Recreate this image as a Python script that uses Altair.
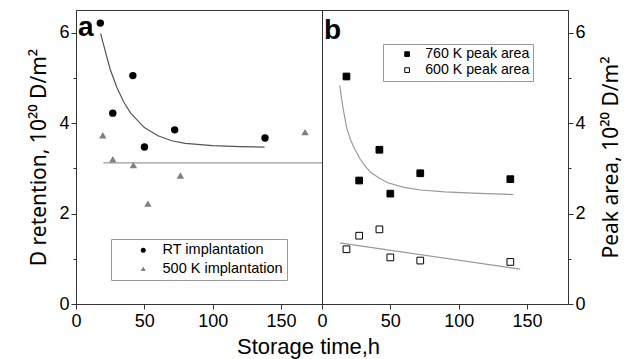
import altair as alt
import pandas as pd

FONT = "Liberation Sans"
TITLE_FONT = "Noto Sans"

# ---- panel a data ----
t_rt = [17.8, 26.9, 41.6, 50.1, 72.2, 138.3]
rt_vals = [6.21, 4.22, 5.05, 3.47, 3.85, 3.67]
t_500 = [19.6, 26.9, 42.0, 52.6, 76.4, 167.6]
k500_vals = [3.73, 3.20, 3.07, 2.22, 2.84, 3.80]
series_a = ["RT implantation", "500 K implantation"]

fit_a_t = [18, 20, 25, 30, 35, 40, 50, 60, 70, 80, 100, 120, 138]
fit_a_y = [5.98, 5.75, 5.19, 4.78, 4.46, 4.22, 3.90, 3.72, 3.61, 3.55, 3.50, 3.48, 3.47]
const_a_t = [20, 180]
const_a_y = [3.12, 3.12]

# ---- panel b data ----
t_b = [17.9, 27.2, 42.0, 50.0, 71.9, 137.8]
p760_vals = [5.03, 2.73, 3.41, 2.44, 2.89, 2.76]
p600_vals = [1.21, 1.51, 1.65, 1.03, 0.96, 0.93]
series_b = ["760 K peak area", "600 K peak area"]

fit_b_t = [13, 15, 18, 21, 24, 28, 32, 36, 42, 48, 60, 72, 90, 110, 140]
fit_b_y = [4.83, 4.40, 3.90, 3.62, 3.42, 3.20, 3.03, 2.90, 2.78, 2.68, 2.58, 2.52, 2.48, 2.45, 2.42]
line_b_t = [13, 145]
line_b_y = [1.35, 0.77]

x_ticks = [0, 25, 50, 75, 100, 125, 150, 175]
y_ticks = [0, 1, 2, 3, 4, 5, 6]
panel_labels = ["a", "b"]

W, H = 246, 294

df_a = pd.DataFrame({
    "t": t_rt + t_500,
    "v": rt_vals + k500_vals,
    "series": [series_a[0]] * len(t_rt) + [series_a[1]] * len(t_500),
})
df_fit_a = pd.DataFrame({"t": fit_a_t, "v": fit_a_y})
df_const_a = pd.DataFrame({"t": const_a_t, "v": const_a_y})

df_b = pd.DataFrame({
    "t": t_b + t_b,
    "v": p760_vals + p600_vals,
    "series": [series_b[0]] * len(t_b) + [series_b[1]] * len(t_b),
})
df_fit_b = pd.DataFrame({"t": fit_b_t, "v": fit_b_y})
df_line_b = pd.DataFrame({"t": line_b_t, "v": line_b_y})

xscale = alt.Scale(domain=[0, 180], nice=False, zero=False)
yscale = alt.Scale(domain=[0, 6.5], nice=False, zero=False)

x_tick_size = {"condition": {"test": "datum.value % 50 == 0", "value": 5}, "value": 3}
y_tick_size = {"condition": {"test": "datum.value % 2 == 0", "value": 5}, "value": 3}

x_axis_a = alt.Axis(values=x_ticks, labelExpr="datum.value % 50 == 0 ? datum.label : ''",
                    tickSize=x_tick_size, labelPadding=3, title="Storage time,h",
                    titleX=232, titleY=49, titleAlign="center", titleBaseline="alphabetic",
                    titleFont=FONT, titleFontSize=22, labelFlush=False)
x_axis_b = alt.Axis(values=x_ticks, labelExpr="datum.value % 50 == 0 ? datum.label : ''",
                    tickSize=x_tick_size, labelPadding=3, title=None, labelFlush=False)
y_axis_a = alt.Axis(values=y_ticks, labelExpr="datum.value % 2 == 0 ? datum.label : ''",
                    tickSize=y_tick_size, labelPadding=2, titlePadding=9,
                    titleFont=TITLE_FONT, titleFontSize=21,
                    title="D retention, 10²⁰ D/m²")
y_axis_b = alt.Axis(orient="right", values=y_ticks,
                    labelExpr="datum.value % 2 == 0 ? datum.label : ''",
                    tickSize=y_tick_size, labelPadding=2, titlePadding=15,
                    titleAngle=270, titleBaseline="top",
                    titleFont=TITLE_FONT, titleFontSize=21,
                    title="Peak area, 10²⁰ D/m²")

legend_a = alt.Legend(orient="none", legendX=35, legendY=229, title=None,
                      strokeColor="#999", padding=4, symbolOffset=21,
                      labelFont=FONT, labelFontSize=14.5, labelColor="black",
                      labelOffset=12, rowPadding=3.5, symbolSize=25)

# ---- panel a ----
pts_a = alt.Chart(df_a).mark_point(filled=True, opacity=1, size=55).encode(
    x=alt.X("t:Q", scale=xscale, axis=x_axis_a),
    y=alt.Y("v:Q", scale=yscale, axis=y_axis_a),
    color=alt.Color("series:N", scale=alt.Scale(domain=series_a, range=["black", "#808080"]),
                    legend=legend_a),
    shape=alt.Shape("series:N", scale=alt.Scale(domain=series_a, range=["circle", "triangle-up"]),
                    legend=legend_a),
)
fit_a = alt.Chart(df_fit_a).mark_line(color="#555", strokeWidth=1.2).encode(
    x=alt.X("t:Q", scale=xscale), y=alt.Y("v:Q", scale=yscale))
const_a = alt.Chart(df_const_a).mark_line(color="#999", strokeWidth=1.2).encode(
    x=alt.X("t:Q", scale=xscale), y=alt.Y("v:Q", scale=yscale))
lab_a = alt.Chart(pd.DataFrame({"lbl": [panel_labels[0]]})).mark_text(
    font=FONT, fontSize=28, fontWeight="bold", align="left", baseline="alphabetic", color="black"
).encode(text="lbl:N", x=alt.value(2), y=alt.value(26))

panel_a = alt.layer(const_a, fit_a, pts_a, lab_a).properties(width=W, height=H)

# ---- panel b ----
pts_b = alt.Chart(df_b).mark_point(shape="square", filled=True, opacity=1, size=45,
                                   stroke="black", strokeWidth=1).encode(
    x=alt.X("t:Q", scale=xscale, axis=x_axis_b),
    y=alt.Y("v:Q", scale=yscale, axis=y_axis_b),
    fill=alt.Fill("series:N", scale=alt.Scale(domain=series_b, range=["black", "white"]),
                  legend=alt.Legend(orient="none", legendX=61, legendY=34, title=None,
                                    strokeColor="#999", padding=3, symbolOffset=14,
                                    symbolType="square", symbolStrokeColor="black",
                                    symbolStrokeWidth=1, symbolSize=22,
                                    labelFont=FONT, labelFontSize=14.2, labelColor="black",
                                    labelOffset=11, rowPadding=1)),
)
fit_b = alt.Chart(df_fit_b).mark_line(color="#999", strokeWidth=1.2).encode(
    x=alt.X("t:Q", scale=xscale), y=alt.Y("v:Q", scale=yscale))
line_b = alt.Chart(df_line_b).mark_line(color="#999", strokeWidth=1.2).encode(
    x=alt.X("t:Q", scale=xscale), y=alt.Y("v:Q", scale=yscale))
lab_b = alt.Chart(pd.DataFrame({"lbl": [panel_labels[1]]})).mark_text(
    font=FONT, fontSize=28, fontWeight="bold", align="left", baseline="alphabetic", color="black"
).encode(text="lbl:N", x=alt.value(2), y=alt.value(29))

panel_b = alt.layer(fit_b, line_b, pts_b, lab_b).properties(width=W, height=H)

chart = alt.hconcat(panel_a, panel_b, spacing=0, bounds="flush").resolve_scale(
    color="independent", shape="independent", fill="independent"
).resolve_legend(
    color="independent", shape="independent", fill="independent"
).properties(
    padding={"left": 28, "top": 9, "right": 8, "bottom": 2},
    background="white",
).configure_view(stroke="#333", strokeWidth=1).configure_axis(
    grid=False, domainColor="#333", tickColor="#333", labelFont=FONT, labelFontSize=18,
    labelColor="black", titleFont=FONT, titleFontSize=22, titleFontWeight="normal",
    titleColor="black"
)

chart.save("out.html", embed_options={"renderer": "svg", "actions": False})
